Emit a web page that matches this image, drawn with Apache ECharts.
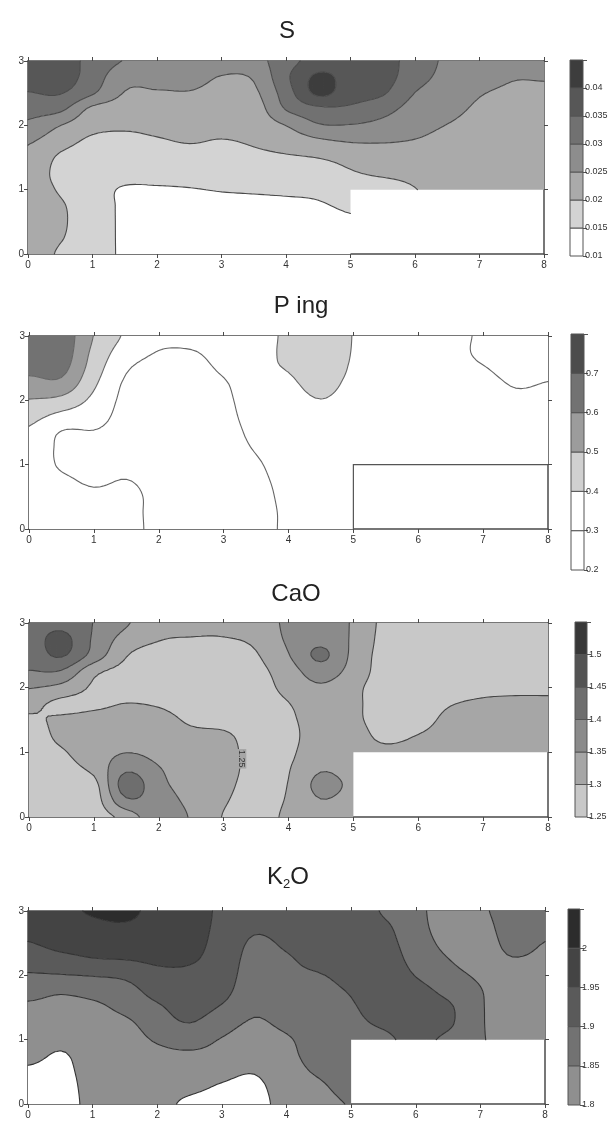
<!DOCTYPE html>
<html>
<head>
<meta charset="utf-8">
<script src="https://cdn.jsdelivr.net/npm/echarts@6/dist/echarts.min.js"></script>
<style>
  html, body { margin: 0; padding: 0; background: #fff; }
  #chart { width: 612px; height: 1122px; }
</style>
</head>
<body>
<div id="chart"></div>
<script>
// sample grid: columns x = 0..8, rows y = 3..0 (top row first)
var gridX = [0, 0.5, 1, 1.5, 2, 2.5, 3, 3.5, 4, 4.5, 5, 5.5, 6, 6.5, 7, 7.5, 8];
var gridY = [3, 2.75, 2.5, 2.25, 2, 1.75, 1.5, 1.25, 1, 0.75, 0.5, 0.25, 0];
var maskRect = [5, 0, 8, 1]; // no samples there

var sValues = [
  [0.038, 0.038, 0.033, 0.02975, 0.028, 0.028, 0.0265, 0.028, 0.033, 0.037, 0.03775, 0.03675, 0.033, 0.029, 0.027, 0.0265, 0.0265],
  [0.037, 0.0375, 0.0325, 0.02675, 0.0265, 0.0265, 0.02485, 0.0255, 0.034, 0.041, 0.038, 0.037, 0.032, 0.0285, 0.0265, 0.02525, 0.02525],
  [0.03475, 0.03525, 0.0305, 0.02475, 0.0246, 0.02475, 0.02375, 0.024, 0.0325, 0.041, 0.037, 0.0355, 0.0299, 0.0275, 0.02525, 0.0245, 0.0244],
  [0.03175, 0.031, 0.02375, 0.02275, 0.02275, 0.02325, 0.02275, 0.0225, 0.03025, 0.03375, 0.034, 0.03175, 0.028, 0.02625, 0.0244, 0.024, 0.02375],
  [0.029, 0.0251, 0.0215, 0.02075, 0.02125, 0.02175, 0.0215, 0.022, 0.0251, 0.0295, 0.02975, 0.0285, 0.0265, 0.0249, 0.02375, 0.0235, 0.02325],
  [0.0255, 0.022, 0.019, 0.01875, 0.0195, 0.02025, 0.01975, 0.0205, 0.022, 0.024, 0.02525, 0.02525, 0.02475, 0.02375, 0.02325, 0.023, 0.02275],
  [0.024, 0.01925, 0.0175, 0.0175, 0.01775, 0.01825, 0.0185, 0.019, 0.0195, 0.0201, 0.0215, 0.023, 0.023, 0.023, 0.02275, 0.0225, 0.0225],
  [0.02325, 0.0185, 0.017, 0.01675, 0.0165, 0.01675, 0.017, 0.01725, 0.0175, 0.018, 0.0195, 0.02075, 0.0215, 0.02225, 0.02225, 0.02225, 0.022],
  [0.02275, 0.0195, 0.017, 0.0145, 0.0145, 0.01475, 0.01525, 0.0155, 0.01575, 0.016, 0.01725, 0.0175, 0.01985, 0.0215, 0.02175, 0.02175, 0.02175],
  [0.0225, 0.0205, 0.01725, 0.01425, 0.013, 0.013, 0.0135, 0.01375, 0.014, 0.0145, 0.01575, null, null, null, null, null, null],
  [0.0225, 0.0205, 0.018, 0.014, 0.013, 0.013, 0.013, 0.013, 0.013, 0.013, 0.01425, null, null, null, null, null, null],
  [0.0225, 0.02025, 0.018, 0.014, 0.013, 0.013, 0.013, 0.013, 0.013, 0.013, 0.01325, null, null, null, null, null, null],
  [0.0225, 0.0195, 0.018, 0.014, 0.013, 0.013, 0.013, 0.013, 0.013, 0.013, 0.013, null, null, null, null, null, null]
];
var sLevels = [0.015, 0.02, 0.025, 0.03, 0.035, 0.04];
var sBarLevels = [0.01, 0.015, 0.02, 0.025, 0.03, 0.035, 0.04, 0.045];

var pValues = [
  [0.67, 0.66, 0.497, 0.385, 0.33, 0.33, 0.34, 0.36, 0.42, 0.47, 0.397, 0.375, 0.345, 0.33, 0.285, 0.26, 0.265],
  [0.66, 0.655, 0.475, 0.35, 0.297, 0.295, 0.33, 0.365, 0.42, 0.465, 0.395, 0.375, 0.35, 0.335, 0.28, 0.265, 0.27],
  [0.63, 0.63, 0.45, 0.31, 0.275, 0.275, 0.315, 0.38, 0.405, 0.45, 0.39, 0.375, 0.355, 0.34, 0.305, 0.275, 0.285],
  [0.56, 0.57, 0.415, 0.285, 0.265, 0.265, 0.29, 0.365, 0.385, 0.425, 0.38, 0.37, 0.355, 0.345, 0.325, 0.295, 0.303],
  [0.495, 0.47, 0.375, 0.275, 0.26, 0.26, 0.28, 0.35, 0.37, 0.398, 0.37, 0.365, 0.355, 0.345, 0.335, 0.315, 0.32],
  [0.43, 0.37, 0.335, 0.27, 0.26, 0.26, 0.275, 0.335, 0.36, 0.375, 0.36, 0.36, 0.355, 0.345, 0.34, 0.325, 0.325],
  [0.385, 0.295, 0.295, 0.27, 0.26, 0.26, 0.27, 0.32, 0.35, 0.355, 0.35, 0.355, 0.35, 0.345, 0.34, 0.33, 0.33],
  [0.36, 0.285, 0.275, 0.27, 0.26, 0.26, 0.27, 0.305, 0.34, 0.345, 0.345, 0.35, 0.35, 0.345, 0.345, 0.335, 0.335],
  [0.355, 0.29, 0.275, 0.28, 0.26, 0.265, 0.27, 0.292, 0.33, 0.335, 0.34, 0.345, 0.345, 0.345, 0.345, 0.34, 0.34],
  [0.35, 0.315, 0.29, 0.302, 0.275, 0.27, 0.27, 0.285, 0.32, 0.33, 0.335, null, null, null, null, null, null],
  [0.345, 0.33, 0.315, 0.32, 0.28, 0.275, 0.275, 0.28, 0.315, 0.325, 0.33, null, null, null, null, null, null],
  [0.34, 0.335, 0.325, 0.322, 0.28, 0.28, 0.28, 0.28, 0.31, 0.32, 0.325, null, null, null, null, null, null],
  [0.34, 0.335, 0.33, 0.325, 0.28, 0.28, 0.28, 0.28, 0.31, 0.32, 0.325, null, null, null, null, null, null]
];
var pLevels = [0.3, 0.4, 0.5, 0.6, 0.7];
var pBarLevels = [0.2, 0.3, 0.4, 0.5, 0.6, 0.7, 0.8];

var caoValues = [
  [1.425, 1.435, 1.3985, 1.355, 1.3175, 1.3125, 1.31, 1.32, 1.36, 1.37, 1.345, 1.285, 1.2775, 1.275, 1.275, 1.275, 1.275],
  [1.425, 1.465, 1.3925, 1.33, 1.3025, 1.2975, 1.2975, 1.31, 1.3575, 1.385, 1.3425, 1.2825, 1.2775, 1.275, 1.275, 1.275, 1.275],
  [1.42, 1.455, 1.38, 1.3025, 1.28, 1.2775, 1.2725, 1.296, 1.3475, 1.41, 1.3375, 1.28, 1.2775, 1.275, 1.275, 1.275, 1.275],
  [1.3975, 1.395, 1.3125, 1.285, 1.2725, 1.2725, 1.27, 1.285, 1.3275, 1.375, 1.33, 1.2775, 1.275, 1.275, 1.2775, 1.2775, 1.2775],
  [1.3525, 1.335, 1.2925, 1.28, 1.275, 1.2725, 1.27, 1.2775, 1.315, 1.3425, 1.3125, 1.275, 1.2725, 1.28, 1.2875, 1.29, 1.29],
  [1.315, 1.2875, 1.29, 1.301, 1.295, 1.2775, 1.2725, 1.275, 1.2985, 1.3275, 1.31, 1.275, 1.2725, 1.2975, 1.3075, 1.31, 1.31],
  [1.2925, 1.3075, 1.3175, 1.32, 1.3175, 1.2925, 1.285, 1.2775, 1.2925, 1.32, 1.31, 1.2775, 1.28, 1.315, 1.32, 1.32, 1.32],
  [1.2775, 1.31, 1.3275, 1.33, 1.3275, 1.3125, 1.3075, 1.2825, 1.29, 1.32, 1.32, 1.2875, 1.3025, 1.325, 1.3275, 1.3275, 1.3275],
  [1.275, 1.295, 1.325, 1.349, 1.335, 1.3225, 1.315, 1.285, 1.2925, 1.3275, 1.325, 1.3125, 1.3225, 1.33, 1.33, 1.33, 1.33],
  [1.275, 1.285, 1.3125, 1.39, 1.3525, 1.3275, 1.3175, 1.285, 1.2975, 1.345, 1.33, null, null, null, null, null, null],
  [1.275, 1.2775, 1.285, 1.425, 1.3625, 1.3325, 1.3125, 1.2825, 1.3015, 1.365, 1.34, null, null, null, null, null, null],
  [1.275, 1.275, 1.2775, 1.39, 1.3725, 1.3375, 1.305, 1.28, 1.305, 1.3475, 1.33, null, null, null, null, null, null],
  [1.275, 1.275, 1.275, 1.32, 1.385, 1.345, 1.2975, 1.2775, 1.31, 1.325, 1.315, null, null, null, null, null, null]
];
var caoLevels = [1.3, 1.35, 1.4, 1.45, 1.5];
var caoBarLevels = [1.25, 1.3, 1.35, 1.4, 1.45, 1.5, 1.55];
var caoLabels = [[3.28, 0.9, '1.25']];

var k2oValues = [
  [1.975, 1.9875, 2.005, 2.015, 1.98, 1.9675, 1.9425, 1.92, 1.93, 1.9375, 1.9325, 1.895, 1.8625, 1.83, 1.84, 1.8775, 1.865],
  [1.9675, 1.98, 1.9875, 1.9925, 1.9775, 1.965, 1.94, 1.9075, 1.92, 1.935, 1.9325, 1.91, 1.8675, 1.83, 1.83, 1.875, 1.86],
  [1.9475, 1.965, 1.97, 1.975, 1.97, 1.9625, 1.935, 1.8925, 1.9075, 1.9275, 1.93, 1.9175, 1.875, 1.8375, 1.825, 1.865, 1.849],
  [1.9225, 1.935, 1.9475, 1.951, 1.9575, 1.955, 1.93, 1.8825, 1.895, 1.915, 1.9225, 1.9225, 1.885, 1.851, 1.83, 1.8475, 1.84],
  [1.895, 1.8975, 1.9025, 1.91, 1.9375, 1.94, 1.925, 1.875, 1.89, 1.8975, 1.9125, 1.925, 1.8985, 1.8675, 1.8425, 1.83, 1.8325],
  [1.865, 1.855, 1.865, 1.88, 1.9175, 1.93, 1.915, 1.8675, 1.8825, 1.89, 1.9025, 1.9225, 1.915, 1.8875, 1.8525, 1.825, 1.83],
  [1.8425, 1.8375, 1.84, 1.8625, 1.8925, 1.92, 1.895, 1.8575, 1.8725, 1.885, 1.8965, 1.915, 1.9225, 1.9075, 1.855, 1.825, 1.83],
  [1.835, 1.8275, 1.83, 1.84, 1.875, 1.899, 1.8675, 1.845, 1.86, 1.88, 1.8925, 1.905, 1.92, 1.9075, 1.855, 1.8275, 1.83],
  [1.83, 1.8125, 1.825, 1.83, 1.855, 1.8675, 1.8475, 1.8325, 1.845, 1.8725, 1.8875, 1.8925, 1.91, 1.89, 1.855, 1.83, 1.83],
  [1.815, 1.795, 1.8225, 1.825, 1.8375, 1.8425, 1.835, 1.8175, 1.84, 1.865, 1.8825, null, null, null, null, null, null],
  [1.79, 1.785, 1.82, 1.8225, 1.825, 1.83, 1.815, 1.8025, 1.835, 1.855, 1.875, null, null, null, null, null, null],
  [1.775, 1.7775, 1.8175, 1.82, 1.82, 1.8125, 1.7925, 1.785, 1.83, 1.8425, 1.865, null, null, null, null, null, null],
  [1.77, 1.775, 1.815, 1.82, 1.8175, 1.7875, 1.77, 1.775, 1.825, 1.835, 1.8525, null, null, null, null, null, null]
];
var k2oLevels = [1.8, 1.85, 1.9, 1.95, 2.0];
var k2oBarLevels = [1.8, 1.85, 1.9, 1.95, 2.0, 2.05];

var FONT = '"Liberation Sans", Arial, sans-serif';

var charts = [
  { title: 'S', values: sValues, levels: sLevels, barLevels: sBarLevels, step: 0.005, digits: 3,
    colors: ['#ffffff', '#d3d3d3', '#aaaaaa', '#8d8d8d', '#717171', '#575757', '#3d3d3d'], barOffset: 0,
    grid: { left: 28, top: 61, width: 516, height: 193 }, bar: { left: 570, top: 60, width: 13, height: 196 },
    titlePos: [287, 31], lineColor: '#4a4a4a' },
  { title: 'P ing', values: pValues, levels: pLevels, barLevels: pBarLevels, step: 0.1, digits: 1,
    colors: ['#ffffff', '#ffffff', '#d0d0d0', '#9c9c9c', '#727272', '#4c4c4c'], barOffset: 0,
    grid: { left: 29, top: 336, width: 519, height: 193 }, bar: { left: 571, top: 334, width: 13, height: 236 },
    titlePos: [301, 306], lineColor: '#666666', outlineMask: true },
  { title: 'CaO', values: caoValues, levels: caoLevels, barLevels: caoBarLevels, step: 0.05, digits: 2,
    colors: ['#c8c8c8', '#a6a6a6', '#8b8b8b', '#6e6e6e', '#535353', '#383838'], barOffset: 0,
    grid: { left: 29, top: 623, width: 519, height: 194 }, bar: { left: 575, top: 622, width: 12, height: 195 },
    titlePos: [296, 594], lineColor: '#444444', labels: caoLabels },
  { title: 'K2O', values: k2oValues, levels: k2oLevels, barLevels: k2oBarLevels, step: 0.05, digits: 2,
    colors: ['#ffffff', '#8f8f8f', '#727272', '#5a5a5a', '#444444', '#2c2c2c'], barOffset: 1,
    grid: { left: 28, top: 911, width: 517, height: 193 }, bar: { left: 568, top: 909, width: 12, height: 196 },
    titlePos: [288, 877], lineColor: '#333333' }
];

// clip a polygon [[x, y, v], ...] to v >= t (dir 1) or v <= t (dir -1)
function clip(poly, t, dir) {
  var out = [];
  for (var i = 0; i < poly.length; i++) {
    var a = poly[i], b = poly[(i + 1) % poly.length];
    var ia = dir * (a[2] - t) >= 0, ib = dir * (b[2] - t) >= 0;
    if (ia) out.push(a);
    if (ia !== ib) {
      var f = (t - a[2]) / (b[2] - a[2]);
      out.push([a[0] + f * (b[0] - a[0]), a[1] + f * (b[1] - a[1]), t]);
    }
  }
  return out;
}

// Catmull-Rom step between p1 and p2
function cr(p0, p1, p2, p3, t) {
  return 0.5 * (2 * p1 + (p2 - p0) * t + (2 * p0 - 5 * p1 + 4 * p2 - p3) * t * t + (3 * p1 - p0 - 3 * p2 + p3) * t * t * t);
}

function contourGroup(c, api) {
  var rows = c.values, th = c.levels, N = 6;
  var eps = (th[th.length - 1] - th[0]) * 1e-6;
  var bandPaths = [];
  for (var b = 0; b <= th.length; b++) bandPaths.push([]);
  var lines = [];

  // keep values off the levels so crossings are never ambiguous
  function nudge(v) {
    for (var k = 0; k < th.length; k++) if (Math.abs(v - th[k]) < eps) return th[k] + eps;
    return v;
  }
  function bandOf(v) { var k = 0; while (k < th.length && v >= th[k]) k++; return k; }
  function pt(p) { var q = api.coord([p[0], p[1]]); return q[0].toFixed(2) + ' ' + q[1].toFixed(2); }
  function addPoly(k, poly) {
    if (poly.length < 3) return;
    bandPaths[k].push('M' + poly.map(pt).join('L') + 'Z');
  }
  function doTri(tri) {
    var vs = [tri[0][2], tri[1][2], tri[2][2]];
    var b0 = bandOf(Math.min.apply(null, vs)), b1 = bandOf(Math.max.apply(null, vs));
    if (b0 === b1) { addPoly(b0, tri); return; }
    for (var k = b0; k <= b1; k++) {
      var poly = tri;
      if (k > 0) poly = clip(poly, th[k - 1], 1);
      if (k < th.length) poly = clip(poly, th[k], -1);
      addPoly(k, poly);
    }
    for (var m = b0; m < b1; m++) {
      var t = th[m], seg = [];
      for (var e = 0; e < 3; e++) {
        var p = tri[e], q = tri[(e + 1) % 3];
        if ((p[2] - t) * (q[2] - t) < 0) {
          var f = (t - p[2]) / (q[2] - p[2]);
          seg.push([p[0] + f * (q[0] - p[0]), p[1] + f * (q[1] - p[1])]);
        }
      }
      if (seg.length === 2) lines.push('M' + pt(seg[0]) + 'L' + pt(seg[1]));
    }
  }
  // neighbour sample for the smooth patch; outside the grid or in the mask, fall back to the cell corners
  function sample(r, q, j, i) {
    var rr = Math.min(Math.max(r, 0), gridY.length - 1), qq = Math.min(Math.max(q, 0), gridX.length - 1);
    var v = rows[rr][qq];
    if (v == null) v = rows[Math.min(Math.max(r, j), j + 1)][Math.min(Math.max(q, i), i + 1)];
    return v;
  }

  for (var j = 0; j < gridY.length - 1; j++) {
    for (var i = 0; i < gridX.length - 1; i++) {
      if (rows[j][i] == null || rows[j][i + 1] == null || rows[j + 1][i] == null || rows[j + 1][i + 1] == null) continue;
      var x0 = gridX[i], x1 = gridX[i + 1], y0 = gridY[j], y1 = gridY[j + 1];
      var patch = [], lo = Infinity, hi = -Infinity;
      for (var r = -1; r <= 2; r++) {
        var line = [];
        for (var q = -1; q <= 2; q++) {
          var sv = sample(j + r, i + q, j, i);
          line.push(sv);
          lo = Math.min(lo, sv); hi = Math.max(hi, sv);
        }
        patch.push(line);
      }
      var bmin = bandOf(nudge(lo)), bmax = bandOf(nudge(hi));
      if (bmin === bmax) {
        addPoly(bmin, [[x0, y0], [x1, y0], [x1, y1], [x0, y1]]);
        continue;
      }
      var P = [];
      for (var a = 0; a <= N; a++) {
        P.push([]);
        var w = a / N;
        for (var s = 0; s <= N; s++) {
          var u = s / N;
          var c0 = cr(patch[0][0], patch[0][1], patch[0][2], patch[0][3], u);
          var c1 = cr(patch[1][0], patch[1][1], patch[1][2], patch[1][3], u);
          var c2 = cr(patch[2][0], patch[2][1], patch[2][2], patch[2][3], u);
          var c3 = cr(patch[3][0], patch[3][1], patch[3][2], patch[3][3], u);
          P[a].push([x0 + u * (x1 - x0), y0 + w * (y1 - y0), nudge(cr(c0, c1, c2, c3, w))]);
        }
      }
      for (var a2 = 0; a2 < N; a2++) {
        for (var s2 = 0; s2 < N; s2++) {
          var A = P[a2][s2], B = P[a2][s2 + 1], C = P[a2 + 1][s2 + 1], D = P[a2 + 1][s2];
          var k1 = bandOf(Math.min(A[2], B[2], C[2], D[2])), k2 = bandOf(Math.max(A[2], B[2], C[2], D[2]));
          if (k1 === k2) { addPoly(k1, [A, B, C, D]); continue; }
          doTri([A, B, C]);
          doTri([A, C, D]);
        }
      }
    }
  }

  var children = [];
  bandPaths.forEach(function (list, k) {
    if (!list.length) return;
    children.push({ type: 'path', shape: { pathData: list.join('') },
      style: { fill: c.colors[k], stroke: null } });
  });
  if (lines.length) {
    children.push({ type: 'path', shape: { pathData: lines.join('') },
      style: { fill: null, stroke: c.lineColor, lineWidth: 1.1, lineCap: 'round', lineJoin: 'round' } });
  }
  if (c.outlineMask) {
    var d = 'M' + pt([maskRect[0], maskRect[1]]) + 'L' + pt([maskRect[0], maskRect[3]]) + 'L' + pt([maskRect[2], maskRect[3]]);
    children.push({ type: 'path', shape: { pathData: d }, style: { fill: null, stroke: '#555', lineWidth: 1.2 } });
  }
  (c.labels || []).forEach(function (l) {
    var q = api.coord([l[0], l[1]]);
    children.push({ type: 'text', x: q[0], y: q[1], rotation: -Math.PI / 2,
      style: { text: l[2], fontSize: 9, fontFamily: FONT, fill: '#333', align: 'center', verticalAlign: 'middle',
        backgroundColor: c.colors[1], padding: [0, 1] } });
  });
  return { type: 'group', children: children };
}

function frameX(gi, pos, labels) {
  return {
    gridIndex: gi, type: 'value', position: pos, min: 0, max: 8, interval: 1,
    axisLine: { show: true, onZero: false, lineStyle: { color: '#4a4a4a', width: 1.5 } },
    axisTick: { show: true, length: 4, lineStyle: { color: '#4a4a4a' } },
    axisLabel: { show: labels, fontSize: 10, color: '#333', margin: 6, fontFamily: FONT },
    splitLine: { show: false }
  };
}
function frameY(gi, pos, labels) {
  return {
    gridIndex: gi, type: 'value', position: pos, min: 0, max: 3, interval: 1,
    axisLine: { show: true, onZero: false, lineStyle: { color: '#4a4a4a', width: 1.5 } },
    axisTick: { show: true, length: 4, lineStyle: { color: '#4a4a4a' } },
    axisLabel: { show: labels, fontSize: 10, color: '#333', margin: 4, fontFamily: FONT },
    splitLine: { show: false }
  };
}

var grids = [], xAxes = [], yAxes = [], series = [], graphics = [];

charts.forEach(function (c) {
  var gi = grids.length;
  grids.push(c.grid, c.bar);
  var xi = xAxes.length, yi = yAxes.length;
  xAxes.push(frameX(gi, 'bottom', true), frameX(gi, 'top', false));
  yAxes.push(frameY(gi, 'left', true), frameY(gi, 'right', false));
  series.push({
    type: 'custom', xAxisIndex: xi, yAxisIndex: yi, data: [[4, 1.5]], silent: true, animation: false, z: 1,
    renderItem: function (params, api) { return contourGroup(c, api); }
  });

  var last = c.barLevels[c.barLevels.length - 1];
  var bxi = xAxes.length, byi = yAxes.length;
  xAxes.push({ gridIndex: gi + 1, type: 'category', data: [c.title], show: false });
  yAxes.push({
    gridIndex: gi + 1, type: 'value', position: 'right', min: c.barLevels[0], max: last, interval: c.step,
    axisLine: { show: false },
    axisTick: { show: true, length: 4, lineStyle: { color: '#555' } },
    axisLabel: { fontSize: 9, color: '#333', margin: 2, fontFamily: FONT,
      formatter: function (v) { return v >= last - c.step / 10 ? '' : String(+v.toFixed(c.digits)); } },
    splitLine: { show: false }
  });
  series.push({
    type: 'custom', xAxisIndex: bxi, yAxisIndex: byi, silent: true, animation: false,
    encode: { x: 0, y: 1 },
    data: c.barLevels.slice(0, -1).map(function (v, i) { return [0, v, c.barLevels[i + 1], i]; }),
    renderItem: function (params, api) {
      var p0 = api.coord([0, api.value(1)]), p1 = api.coord([0, api.value(2)]);
      var w = api.size([1, 0])[0];
      return { type: 'rect', shape: { x: p0[0] - w / 2, y: p1[1], width: w, height: p0[1] - p1[1] },
        style: { fill: c.colors[api.value(3) + c.barOffset], stroke: '#555', lineWidth: 1 } };
    }
  });

  var txt = c.title === 'K2O' ? '{a|K}{b|2}{a|O}' : '{a|' + c.title + '}';
  graphics.push({
    type: 'text', x: c.titlePos[0], y: c.titlePos[1],
    style: {
      text: txt, align: 'center', verticalAlign: 'middle',
      rich: {
        a: { fontSize: 24, fontFamily: FONT, fill: '#222', lineHeight: 28 },
        b: { fontSize: 13, fontFamily: FONT, fill: '#222', lineHeight: 28, verticalAlign: 'bottom' }
      }
    }
  });
});

var chart = echarts.init(document.getElementById('chart'));
chart.setOption({
  animation: false,
  backgroundColor: '#ffffff',
  grid: grids,
  xAxis: xAxes,
  yAxis: yAxes,
  series: series,
  graphic: graphics
});
</script>
</body>
</html>
